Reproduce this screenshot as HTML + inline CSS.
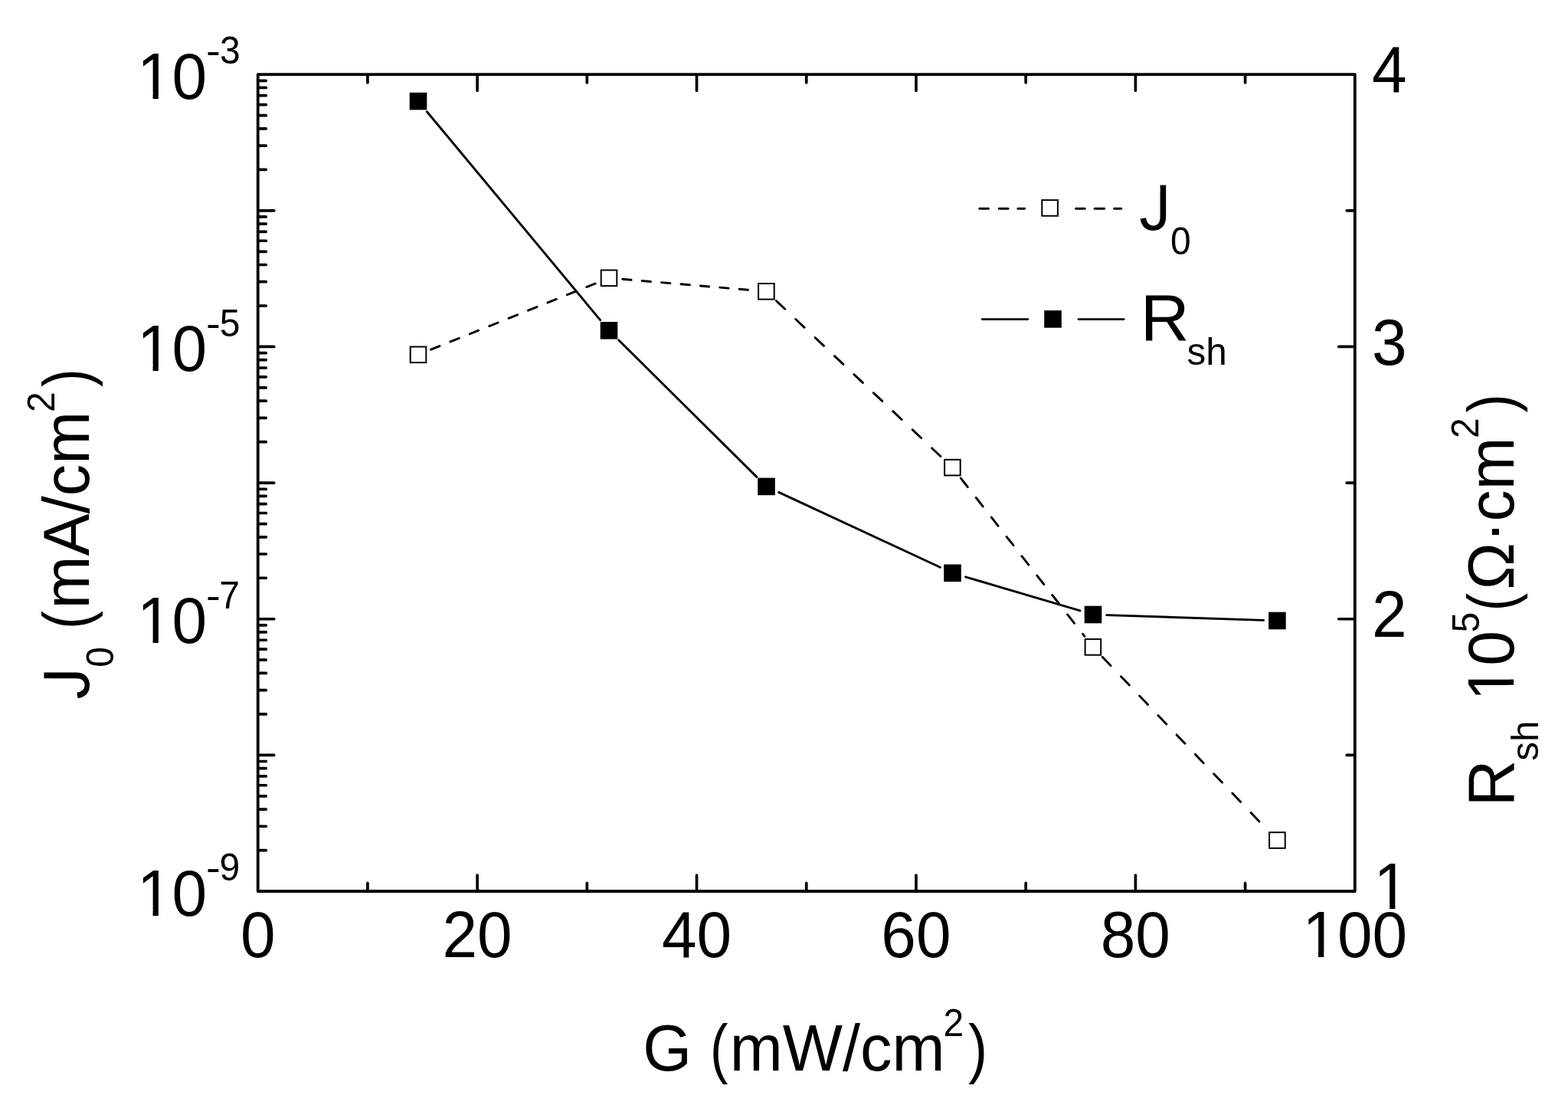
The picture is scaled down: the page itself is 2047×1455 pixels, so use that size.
<!DOCTYPE html>
<html><head><meta charset="utf-8"><title>J0 and Rsh vs G</title>
<style>html,body{margin:0;padding:0;background:#fff;}svg{display:block;}</style>
</head><body>
<svg width="2047" height="1455" viewBox="0 0 2047 1455">
<rect width="2047" height="1455" fill="#fff"/>
<g stroke="#000" stroke-linecap="round" fill="none">
<rect x="336.7" y="97.2" width="1432.1" height="1065.8" stroke-width="3.8" stroke-linejoin="round"/>
<path stroke-width="3.7" d="M479.91 1162L479.91 1152.4 M479.91 98.2L479.91 107.8 M623.12 1162L623.12 1142 M623.12 98.2L623.12 118.2 M766.33 1162L766.33 1152.4 M766.33 98.2L766.33 107.8 M909.54 1162L909.54 1142 M909.54 98.2L909.54 118.2 M1052.75 1162L1052.75 1152.4 M1052.75 98.2L1052.75 107.8 M1195.96 1162L1195.96 1142 M1195.96 98.2L1195.96 118.2 M1339.17 1162L1339.17 1152.4 M1339.17 98.2L1339.17 107.8 M1482.38 1162L1482.38 1142 M1482.38 98.2L1482.38 118.2 M1625.59 1162L1625.59 1152.4 M1625.59 98.2L1625.59 107.8 M337.7 221.36L347.3 221.36 M337.7 190.081L347.3 190.081 M337.7 167.887L347.3 167.887 M337.7 150.673L347.3 150.673 M337.7 136.608L347.3 136.608 M337.7 124.716L347.3 124.716 M337.7 114.414L347.3 114.414 M337.7 105.328L347.3 105.328 M337.7 398.994L347.3 398.994 M337.7 367.714L347.3 367.714 M337.7 345.521L347.3 345.521 M337.7 328.306L347.3 328.306 M337.7 314.241L347.3 314.241 M337.7 302.349L347.3 302.349 M337.7 292.048L347.3 292.048 M337.7 282.961L347.3 282.961 M337.7 274.833L357.7 274.833 M337.7 576.627L347.3 576.627 M337.7 545.347L347.3 545.347 M337.7 523.154L347.3 523.154 M337.7 505.94L347.3 505.94 M337.7 491.874L347.3 491.874 M337.7 479.982L347.3 479.982 M337.7 469.681L347.3 469.681 M337.7 460.595L347.3 460.595 M337.7 452.467L357.7 452.467 M337.7 754.26L347.3 754.26 M337.7 722.981L347.3 722.981 M337.7 700.787L347.3 700.787 M337.7 683.573L347.3 683.573 M337.7 669.508L347.3 669.508 M337.7 657.616L347.3 657.616 M337.7 647.314L347.3 647.314 M337.7 638.228L347.3 638.228 M337.7 630.1L357.7 630.1 M337.7 931.894L347.3 931.894 M337.7 900.614L347.3 900.614 M337.7 878.421L347.3 878.421 M337.7 861.206L347.3 861.206 M337.7 847.141L347.3 847.141 M337.7 835.249L347.3 835.249 M337.7 824.948L347.3 824.948 M337.7 815.861L347.3 815.861 M337.7 807.733L357.7 807.733 M337.7 1109.527L347.3 1109.527 M337.7 1078.247L347.3 1078.247 M337.7 1056.054L347.3 1056.054 M337.7 1038.84L347.3 1038.84 M337.7 1024.774L347.3 1024.774 M337.7 1012.882L347.3 1012.882 M337.7 1002.581L347.3 1002.581 M337.7 993.495L347.3 993.495 M337.7 985.367L357.7 985.367 M1767.8 274.833L1758.2 274.833 M1767.8 452.467L1747.8 452.467 M1767.8 630.1L1758.2 630.1 M1767.8 807.733L1747.8 807.733 M1767.8 985.367L1758.2 985.367"/>
</g>
<g stroke="#000" fill="none" stroke-width="2.9">
<line x1="557.386" y1="145.782" x2="783.614" y2="417.618" stroke-linecap="round"/>
<line x1="807.645" y1="443.828" x2="987.855" y2="622.372" stroke-linecap="round"/>
<line x1="1016.643" y1="642.4" x2="1227.357" y2="740.3" stroke-linecap="round"/>
<line x1="1260.571" y1="752.842" x2="1409.929" y2="796.958" stroke-linecap="round"/>
<line x1="1444.79" y1="802.592" x2="1649.61" y2="809.408" stroke-linecap="round"/>
<line x1="562.518" y1="456.166" x2="778.482" y2="369.434" stroke-linecap="round" stroke-dasharray="12.285 15.087"/>
<line x1="812.736" y1="364.311" x2="982.664" y2="378.789" stroke-linecap="round" stroke-dasharray="11.441 14.051"/>
<line x1="1013.333" y1="392.53" x2="1230.467" y2="597.87" stroke-linecap="round" stroke-dasharray="15.69 19.269"/>
<line x1="1254.375" y1="624.114" x2="1415.925" y2="830.386" stroke-linecap="round" stroke-dasharray="14.48 17.783"/>
<line x1="1439.187" y1="857.279" x2="1655.113" y2="1083.621" stroke-linecap="round" stroke-dasharray="15.755 19.349"/>
</g>
<g fill="#000">
<rect x="534.7" y="120.8" width="22.6" height="22.6"/>
<rect x="783.7" y="420" width="22.6" height="22.6"/>
<rect x="989.2" y="623.6" width="22.6" height="22.6"/>
<rect x="1232.2" y="736.5" width="22.6" height="22.6"/>
<rect x="1415.7" y="790.7" width="22.6" height="22.6"/>
<rect x="1656.1" y="798.7" width="22.6" height="22.6"/>
</g>
<g fill="#fff" stroke="#000" stroke-width="2">
<rect x="535.7" y="452.5" width="20.6" height="20.6"/>
<rect x="784.7" y="352.5" width="20.6" height="20.6"/>
<rect x="990.1" y="370" width="20.6" height="20.6"/>
<rect x="1233.1" y="599.8" width="20.6" height="20.6"/>
<rect x="1416.6" y="834.1" width="20.6" height="20.6"/>
<rect x="1657.1" y="1086.2" width="20.6" height="20.6"/>
</g>
<g stroke="#000" stroke-width="2.9" stroke-linecap="round">
<line x1="1278.8" y1="272.2" x2="1290.5" y2="272.2"/>
<line x1="1304.3" y1="272.2" x2="1316" y2="272.2"/>
<line x1="1328.9" y1="272.2" x2="1337.6" y2="272.2"/>
<line x1="1404.5" y1="272.2" x2="1416.2" y2="272.2"/>
<line x1="1429.2" y1="272.2" x2="1441.7" y2="272.2"/>
<line x1="1454.7" y1="272.2" x2="1463.7" y2="272.2"/>
<line x1="1282.3" y1="416.6" x2="1341.8" y2="416.6"/>
<line x1="1408.1" y1="416.6" x2="1467.2" y2="416.6"/>
</g>
<rect x="1360.3" y="261.1" width="20.6" height="20.6" fill="#fff" stroke="#000" stroke-width="2"/>
<rect x="1363.2" y="405.1" width="22.6" height="22.6" fill="#000"/>
<g font-family="'Liberation Sans', Arial, sans-serif" fill="#000">
<text x="336.7" y="1249.5" font-size="82" text-anchor="middle" transform="matrix(1 0 0 1.035 0 -43.732)">0</text>
<text x="623.12" y="1249.5" font-size="82" text-anchor="middle" transform="matrix(1 0 0 1.035 0 -43.732)">20</text>
<text x="909.54" y="1249.5" font-size="82" text-anchor="middle" transform="matrix(1 0 0 1.035 0 -43.732)">40</text>
<text x="1195.96" y="1249.5" font-size="82" text-anchor="middle" transform="matrix(1 0 0 1.035 0 -43.732)">60</text>
<text x="1482.38" y="1249.5" font-size="82" text-anchor="middle" transform="matrix(1 0 0 1.035 0 -43.732)">80</text>
<text x="1768.8" y="1249.5" font-size="82" text-anchor="middle" transform="matrix(1 0 0 1.035 0 -43.732)">100</text>
<rect x="1705.199" y="1241.86" width="15.814" height="9.14" fill="#fff"/>
<rect x="1728.26" y="1241.86" width="15.174" height="9.14" fill="#fff"/>
<text x="178.954" y="128.8" font-size="82" text-anchor="start" transform="matrix(1 0 0 1.035 0 -4.508)">10</text>
<rect x="183.76" y="121.16" width="15.814" height="9.14" fill="#fff"/>
<rect x="206.821" y="121.16" width="15.174" height="9.14" fill="#fff"/>
<text x="268.883" y="83.3" font-size="48" text-anchor="start" transform="matrix(1.18 0 0 1.035 -48.399 -2.915)">-</text>
<text x="286.972" y="83.3" font-size="48" text-anchor="start" transform="matrix(1 0 0 1.035 0 -2.915)">3</text>
<text x="178.954" y="484.067" font-size="82" text-anchor="start" transform="matrix(1 0 0 1.035 0 -16.942)">10</text>
<rect x="183.76" y="476.426" width="15.814" height="9.14" fill="#fff"/>
<rect x="206.821" y="476.426" width="15.174" height="9.14" fill="#fff"/>
<text x="268.883" y="438.567" font-size="48" text-anchor="start" transform="matrix(1.18 0 0 1.035 -48.399 -15.35)">-</text>
<text x="286.878" y="438.567" font-size="48" text-anchor="start" transform="matrix(1 0 0 1.035 0 -15.35)">5</text>
<text x="178.954" y="839.333" font-size="82" text-anchor="start" transform="matrix(1 0 0 1.035 0 -29.377)">10</text>
<rect x="183.76" y="831.693" width="15.814" height="9.14" fill="#fff"/>
<rect x="206.821" y="831.693" width="15.174" height="9.14" fill="#fff"/>
<text x="268.883" y="793.833" font-size="48" text-anchor="start" transform="matrix(1.18 0 0 1.035 -48.399 -27.784)">-</text>
<text x="286.339" y="793.833" font-size="48" text-anchor="start" transform="matrix(1 0 0 1.035 0 -27.784)">7</text>
<text x="178.954" y="1194.6" font-size="82" text-anchor="start" transform="matrix(1 0 0 1.035 0 -41.811)">10</text>
<rect x="183.76" y="1186.96" width="15.814" height="9.14" fill="#fff"/>
<rect x="206.821" y="1186.96" width="15.174" height="9.14" fill="#fff"/>
<text x="268.883" y="1149.1" font-size="48" text-anchor="start" transform="matrix(1.18 0 0 1.035 -48.399 -40.218)">-</text>
<text x="286.55" y="1149.1" font-size="48" text-anchor="start" transform="matrix(1 0 0 1.035 0 -40.218)">9</text>
<text x="1791" y="120.5" font-size="82" text-anchor="start" transform="matrix(1 0 0 1.035 0 -4.217)">4</text>
<text x="1791" y="475.767" font-size="82" text-anchor="start" transform="matrix(1 0 0 1.035 0 -16.652)">3</text>
<text x="1791" y="831.033" font-size="82" text-anchor="start" transform="matrix(1 0 0 1.035 0 -29.086)">2</text>
<text x="1793.5" y="1186.3" font-size="82" text-anchor="start" transform="matrix(1 0 0 1.035 0 -41.52)">1</text>
<rect x="1798.306" y="1178.66" width="15.814" height="9.14" fill="#fff"/>
<rect x="1821.367" y="1178.66" width="15.174" height="9.14" fill="#fff"/>
<text x="839.276" y="1397.5" font-size="82" text-anchor="start" transform="matrix(1 0 0 1.035 0 -48.912)">G</text>
<text x="927.027" y="1397.5" font-size="82" text-anchor="start" transform="matrix(0.86 0 0 1.035 129.784 -48.912)">(</text>
<text x="952.795" y="1397.5" font-size="82.9" text-anchor="start" transform="matrix(1 0 0 1.035 0 -48.912)">mW/cm</text>
<text x="1231.486" y="1351.6" font-size="48" text-anchor="start" transform="matrix(1 0 0 1.035 0 -47.306)">2</text>
<text x="1263.958" y="1397.5" font-size="82" text-anchor="start" transform="matrix(0.92 0 0 1.035 101.117 -48.912)">)</text>
<text x="1487.319" y="300.5" font-size="82" text-anchor="start" transform="matrix(1 0 0 1.035 0 -10.517)">J</text>
<rect x="1502.134" y="240.61" width="12.491" height="8.965" fill="#fff"/>
<text x="1528.125" y="332" font-size="48" text-anchor="start" transform="matrix(1 0 0 1.035 0 -11.62)">0</text>
<text x="1488.735" y="444.2" font-size="82" text-anchor="start" transform="matrix(1.08 0 0 1.035 -119.099 -15.547)">R</text>
<text x="1549.624" y="476.5" font-size="48" text-anchor="start" transform="matrix(1.03 0 0 1.035 -46.489 -16.677)">sh</text>
</g>
<g font-family="'Liberation Sans', Arial, sans-serif" fill="#000" transform="translate(116 911.2) rotate(-90)">
<text x="-1.281" y="0" font-size="82" text-anchor="start" transform="matrix(1 0 0 1.035 0 0)">J</text>
<rect x="13.534" y="-59.89" width="12.491" height="8.965" fill="#fff"/>
<text x="40.425" y="32" font-size="48" text-anchor="start" transform="matrix(1 0 0 1.035 0 -1.12)">0</text>
<text x="90.125" y="0" font-size="82" text-anchor="start" transform="matrix(0.88 0 0 1.035 10.815 0)">(</text>
<text x="116.595" y="0" font-size="82.9" text-anchor="start" transform="matrix(1 0 0 1.035 0 0)">mA/cm</text>
<text x="373.186" y="-45.5" font-size="48" text-anchor="start" transform="matrix(1 0 0 1.035 0 1.592)">2</text>
<text x="406.082" y="0" font-size="82" text-anchor="start" transform="matrix(0.87 0 0 1.035 52.791 0)">)</text>
</g>
<g font-family="'Liberation Sans', Arial, sans-serif" fill="#000" transform="translate(1975.5 1046) rotate(-90)">
<text x="-6.628" y="0" font-size="82" text-anchor="start" transform="matrix(1.03 0 0 1.035 0.199 0)">R</text>
<text x="53.324" y="32" font-size="48" text-anchor="start" transform="matrix(1.03 0 0 1.035 -1.6 -1.12)">sh</text>
<text x="131.554" y="0" font-size="82" text-anchor="start" transform="matrix(1 0 0 1.035 0 0)">10</text>
<rect x="136.36" y="-7.64" width="15.814" height="9.14" fill="#fff"/>
<rect x="159.421" y="-7.64" width="15.174" height="9.14" fill="#fff"/>
<text x="220.378" y="-45" font-size="48" text-anchor="start" transform="matrix(1 0 0 1.035 0 1.575)">5</text>
<text x="248.827" y="0" font-size="82" text-anchor="start" transform="matrix(0.86 0 0 1.035 34.836 0)">(</text>
<text x="276.495" y="0" font-size="82.5" text-anchor="start" transform="matrix(1 0 0 1.035 0 0)">Ω·cm</text>
<text x="473.986" y="-45.2" font-size="48" text-anchor="start" transform="matrix(1 0 0 1.035 0 1.582)">2</text>
<text x="507.572" y="0" font-size="82" text-anchor="start" transform="matrix(0.89 0 0 1.035 55.833 0)">)</text>
</g>
</svg>
</body></html>
